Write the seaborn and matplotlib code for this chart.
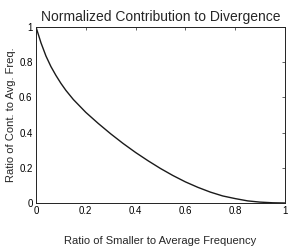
import matplotlib
matplotlib.use("Agg")
import matplotlib.pyplot as plt
import seaborn as sns
import pandas as pd

# Data
ratio = [0, 0.02, 0.04, 0.06, 0.08, 0.10, 0.12, 0.15, 0.20, 0.25, 0.30, 0.35,
         0.40, 0.45, 0.50, 0.55, 0.60, 0.65, 0.70, 0.75, 0.80, 0.85, 0.90,
         0.95, 1.0]
contribution = [1.0, 0.91, 0.835, 0.775, 0.725, 0.68, 0.64, 0.588, 0.515,
                0.452, 0.393, 0.338, 0.287, 0.24, 0.196, 0.156, 0.12, 0.089,
                0.062, 0.04, 0.025, 0.012, 0.005, 0.0013, 0.0]
ticks = [0, 0.2, 0.4, 0.6, 0.8, 1]
tick_labels = ["0", "0.2", "0.4", "0.6", "0.8", "1"]

title = "Normalized Contribution to Divergence"
xlabel = "Ratio of Smaller to Average Frequency"
ylabel = "Ratio of Cont. to Avg. Freq."

sns.set_style("white")
plt.rcParams["font.family"] = ["Liberation Sans", "DejaVu Sans"]

df = pd.DataFrame({"ratio": ratio, "contribution": contribution})

fig = plt.figure(figsize=(2.91, 2.48), dpi=100)
ax = fig.add_axes([36 / 291, 1 - 203 / 248, 249 / 291, 176 / 248])

sns.lineplot(data=df, x="ratio", y="contribution", color="#1a1a1a",
             linewidth=1.0, ax=ax)

ax.set_xlim(0, 1)
ax.set_ylim(0, 1)
ax.set_xticks(ticks)
ax.set_xticklabels(tick_labels)
ax.set_yticks(ticks)
ax.set_yticklabels(tick_labels)
ax.tick_params(direction="in", length=2.5, width=0.5, colors="#222222",
               labelsize=7, top=True, right=True, pad=2.5)
ax.tick_params(axis="both", labelcolor="black")
for s in ax.spines.values():
    s.set_visible(True)
    s.set_linewidth(0.7)
    s.set_color("#222222")

ax.set_title(title, fontsize=10, pad=4)
ax.set_xlabel(xlabel, fontsize=8, labelpad=14)
ax.set_ylabel(ylabel, fontsize=8, labelpad=2)

fig.savefig("out.png", dpi=100)
